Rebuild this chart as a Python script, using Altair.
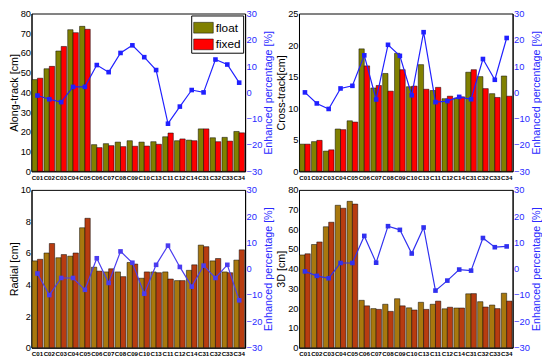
import altair as alt
import pandas as pd

categories = ["C01", "C02", "C03", "C04", "C05", "C06", "C07", "C08", "C09",
              "C10", "C13", "C11", "C12", "C14", "C31", "C32", "C33", "C34"]

along_float = [46.5, 52.0, 61.0, 71.8, 73.5, 13.5, 14.0, 14.8, 15.5, 14.8, 15.0, 17.5, 15.5, 15.8, 21.5, 17.0, 17.2, 20.2]
along_fixed = [47.2, 53.2, 63.3, 70.3, 72.0, 12.0, 13.0, 12.5, 12.7, 12.8, 13.7, 19.4, 16.4, 15.5, 21.5, 15.0, 15.3, 19.5]
along_pct = [-1.2, -2.6, -3.7, 2.1, 2.1, 10.4, 7.7, 15.0, 17.9, 13.4, 8.5, -11.9, -5.4, 0.9, 0.0, 12.5, 10.6, 3.7]

cross_float = [4.3, 4.7, 3.2, 6.7, 8.0, 19.4, 13.2, 15.5, 18.7, 13.4, 16.9, 12.8, 11.5, 11.6, 15.7, 15.0, 12.3, 15.1]
cross_fixed = [4.3, 4.9, 3.4, 6.6, 7.8, 16.7, 13.6, 12.7, 16.1, 13.5, 13.0, 13.3, 11.9, 11.8, 16.1, 13.1, 11.7, 11.9]
cross_pct = [0.0, -4.2, -6.3, 1.5, 2.5, 14.1, -2.7, 18.1, 13.9, -1.1, 22.9, -3.7, -3.3, -1.7, -2.6, 12.7, 4.8, 20.7]

radial_float = [5.5, 6.0, 5.7, 5.8, 7.6, 5.1, 4.8, 4.8, 5.4, 4.4, 4.8, 4.8, 4.25, 4.9, 6.5, 5.5, 4.8, 5.55]
radial_fixed = [5.6, 6.6, 5.9, 6.0, 8.2, 4.85, 5.0, 4.5, 5.3, 4.8, 4.75, 4.35, 4.25, 5.25, 6.4, 5.65, 4.75, 6.2]
radial_pct = [-1.8, -10.0, -3.5, -3.5, -8.0, 4.0, -5.4, 6.6, 2.3, -9.5, 1.5, 8.8, 0.7, -6.8, 1.2, -3.5, 1.5, -12.0]

d3_float = [47.0, 52.3, 61.3, 72.2, 74.2, 24.0, 19.8, 22.0, 24.8, 20.2, 23.0, 22.0, 19.7, 20.1, 27.3, 23.3, 21.6, 27.6]
d3_fixed = [47.6, 53.6, 63.6, 70.7, 72.8, 21.2, 19.4, 18.4, 21.2, 19.1, 19.4, 23.6, 20.5, 20.1, 27.4, 20.6, 19.8, 23.6]
d3_pct = [-1.0, -2.7, -3.6, 2.2, 2.2, 12.5, 2.3, 16.2, 14.8, 5.8, 15.7, -8.3, -4.5, -0.3, -0.7, 11.7, 8.2, 8.5]

types = ["float", "fixed"]
FONT = "Liberation Sans"
W, H = 218, 161
BLUE_TXT = "#2a2aff"


def panel(title, fl, fx, pct, ymax, ystep, colors, line_color, show_legend):
    bars_df = pd.DataFrame({
        "cat": categories * 2,
        "type": ["float"] * len(categories) + ["fixed"] * len(categories),
        "value": fl + fx,
    })
    line_df = pd.DataFrame({"cat": categories, "pct": pct})
    x = alt.X("cat:N", sort=categories, title=None,
              scale=alt.Scale(paddingInner=0.1, paddingOuter=0.05),
              axis=alt.Axis(labelAngle=0, labelFontSize=6.3, labelFontWeight="bold",
                            labelOverlap=False, labelPadding=3, tickSize=0,
                            domainColor="black", labelColor="black"))
    if show_legend:
        leg = alt.Legend(title=None, orient="top-right", offset=2, strokeColor="black",
                         padding=2, labelFontSize=12, labelFont=FONT,
                         symbolType="M-1,-0.55H1V0.55H-1Z", symbolSize=400,
                         symbolStrokeColor="black", symbolStrokeWidth=0.5,
                         labelOffset=2, rowPadding=0, fillColor="white")
    else:
        leg = None
    bars = alt.Chart(bars_df).mark_bar(stroke="black", strokeWidth=0.5).encode(
        x=x,
        xOffset=alt.XOffset("type:N", sort=types, scale=alt.Scale(paddingInner=0, paddingOuter=0)),
        y=alt.Y("value:Q", title=title,
                scale=alt.Scale(domain=[0, ymax], nice=False),
                axis=alt.Axis(values=list(range(0, ymax + 1, ystep)),
                              grid=False, tickSize=0, labelFontSize=9.5, labelPadding=1,
                              titleFontSize=11, titleFontWeight="normal", titlePadding=1,
                              domainColor="black", labelColor="black",
                              titleColor="black")),
        color=alt.Color("type:N", sort=types,
                        scale=alt.Scale(domain=types, range=colors), legend=leg),
    )
    line = alt.Chart(line_df).mark_line(
        color=line_color, strokeWidth=1.2,
        point=alt.OverlayMarkDef(shape="square", size=22, filled=True, color=line_color, opacity=1),
    ).encode(
        x=alt.X("cat:N", sort=categories),
        y=alt.Y("pct:Q", title="Enhanced percentage [%]",
                scale=alt.Scale(domain=[-30, 30], nice=False),
                axis=alt.Axis(orient="right", values=[-30, -20, -10, 0, 10, 20, 30],
                              grid=False, tickSize=0, labelFontSize=9.5, labelPadding=1,
                              labelColor=BLUE_TXT, titleColor=BLUE_TXT,
                              domainColor="black", titleFontSize=11, titleFontWeight="normal",
                              titlePadding=1, titleAngle=270, titleBaseline="top")),
    )
    return alt.layer(bars, line).resolve_scale(y="independent").properties(width=W, height=H)


top_colors = ["#808000", "#ff0000"]
bot_colors = ["#a8780e", "#b83c10"]

p1 = panel("Along-track [cm]", along_float, along_fixed, along_pct, 80, 10, top_colors, "#2020ff", True)
p2 = panel("Cross-track[cm]", cross_float, cross_fixed, cross_pct, 25, 5, top_colors, "#2020ff", False)
p3 = panel("Radial [cm]", radial_float, radial_fixed, radial_pct, 10, 2, bot_colors, "#4a3cf0", False)
p4 = panel("3D [cm]", d3_float, d3_fixed, d3_pct, 80, 10, bot_colors, "#3030f0", False)

chart = alt.concat(
    p1, p2, p3, p4, columns=2, spacing={"row": 19, "column": 55}, bounds="flush"
).resolve_scale(
    color="independent"
).properties(padding={"left": -1, "top": -4, "right": 0, "bottom": 0}).configure(
    font=FONT
).configure_view(stroke="black", strokeWidth=1).configure_axis(
    labelFont=FONT, titleFont=FONT
)

chart.save("out.html", embed_options={"renderer": "svg", "actions": False})
